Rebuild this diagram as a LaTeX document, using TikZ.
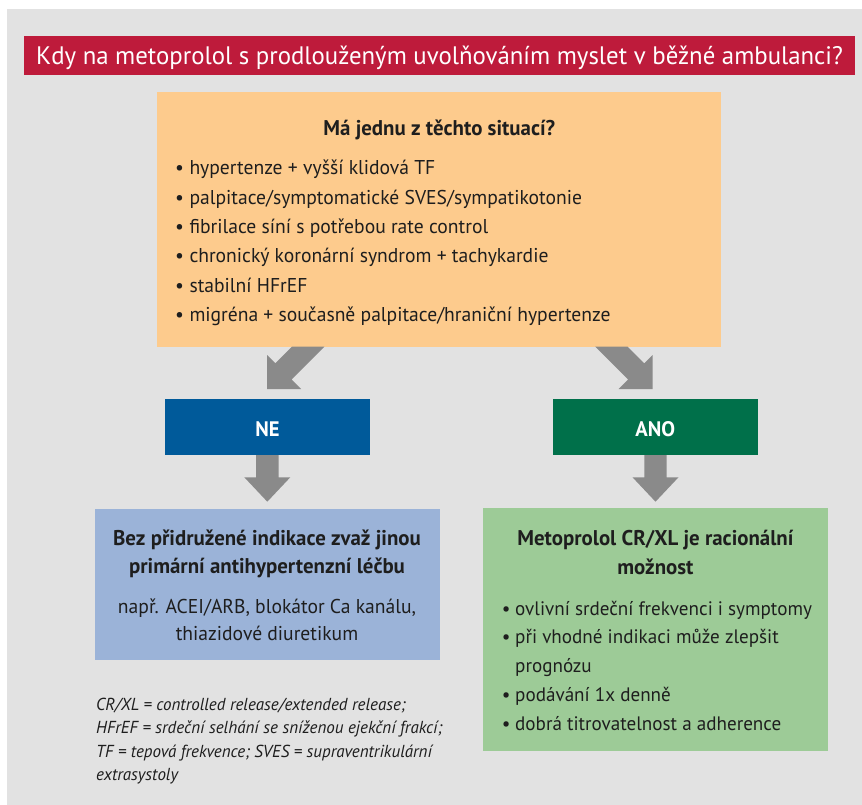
\documentclass[tikz,border=0pt]{standalone}
\usepackage{fontspec}
\setmainfont{PT Sans}[FakeStretch=0.98]
\usetikzlibrary{calc}
\definecolor{bggrey}{HTML}{E2E2E2}
\definecolor{titlered}{HTML}{BE1B3B}
\definecolor{qorange}{HTML}{FDCB8D}
\definecolor{neblue}{HTML}{005A9A}
\definecolor{anogreen}{HTML}{00704A}
\definecolor{bluebox}{HTML}{9BB3D8}
\definecolor{greenbox}{HTML}{9DCB97}
\definecolor{arrowgrey}{HTML}{8A8A8A}
\definecolor{txtc}{HTML}{1E1E1E}
\begin{document}
\begin{tikzpicture}[x=1pt,y=-1pt,
  box/.style={draw=none,inner sep=0pt,outer sep=0pt,anchor=north west},
  txt/.style={inner sep=0pt,text=txtc,font=\fontsize{20}{24}\selectfont},
  txtg/.style={inner sep=0pt,text=txtc,font=\fontsize{19.5}{24}\selectfont},
  txtb/.style={inner sep=0pt,text=txtc,font=\fontsize{21.3}{24}\selectfont\bfseries},
  lab/.style={inner sep=0pt,anchor=base,text=white,font=\fontsize{21}{24}\selectfont\bfseries},
  foot/.style={inner sep=0pt,text=txtc,anchor=base west,font=\fontsize{17.35}{20}\selectfont\itshape},
  fat/.style={fill=arrowgrey,draw=none}]
\useasboundingbox (0,0) rectangle (862,805);
\fill[white] (0,0) rectangle (862,805);
\fill[bggrey] (7,9) rectangle (862,805);

% boxes
\node[box,fill=titlered,minimum width=831,minimum height=39.5] (title) at (24,36) {};
\node[box,fill=qorange,minimum width=564,minimum height=254.7] (q) at (157,92) {};
\node[box,fill=neblue,minimum width=205,minimum height=56] (ne) at (165,399) {};
\node[box,fill=anogreen,minimum width=205,minimum height=56] (ano) at (552.7,399) {};
\node[box,fill=bluebox,minimum width=345,minimum height=151.5] (nebox) at (95,508.5) {};
\node[box,fill=greenbox,minimum width=345,minimum height=242.7] (anobox) at (483,508.3) {};

% arrows (tips placed relative to the boxes they point at)
\coordinate (tipL) at ($(ne.north)+(-0.5,-10)$);
\coordinate (tipR) at ($(ano.north)+(-2.7,-10)$);
\coordinate (tipNE) at ($(ne.south)+(-0.2,46.7)$);
\coordinate (tipANO) at ($(ano.south)+(0.3,46.7)$);
\fill[fat] (tipL) -- ($(tipL)+(0,-34)$) -- ($(tipL)+(8.35,-25.65)$) -- ($(tipL)+(25,-42.3)$)
  -- ($(tipL)+(57.3,-42.3)$) -- ($(tipL)+(24.5,-9.5)$) -- ($(tipL)+(34,0)$) -- cycle;
\fill[fat] (tipR) -- ($(tipR)+(0,-34)$) -- ($(tipR)+(-8.35,-25.65)$) -- ($(tipR)+(-25,-42.3)$)
  -- ($(tipR)+(-57.3,-42.3)$) -- ($(tipR)+(-24.5,-9.5)$) -- ($(tipR)+(-34,0)$) -- cycle;
\foreach \c in {tipNE,tipANO}{
  \fill[fat] (\c) -- ($(\c)+(-23,-24.4)$) -- ($(\c)+(-11.2,-24.4)$) -- ($(\c)+(-11.2,-46.7)$)
    -- ($(\c)+(11.2,-46.7)$) -- ($(\c)+(11.2,-24.4)$) -- ($(\c)+(23,-24.4)$) -- cycle;
}

% texts
\node[inner sep=0pt,anchor=base,text=white,font=\fontsize{25.3}{30}\selectfont] (titletxt) at (439.5,65) {Kdy na metoprolol s prodlouženým uvolňováním myslet v běžné ambulanci?};
\node[txtb,anchor=base] (qh) at (439.3,135.7) {Má jednu z těchto situací?};
\foreach \t [count=\i] in {{hypertenze + vyšší klidová TF},
  {palpitace/symptomatické SVES/sympatikotonie},
  {fibrilace síní s potřebou rate control},
  {chronický koronární syndrom + tachykardie},
  {stabilní HFrEF},
  {migréna + současně palpitace/hraniční hypertenze}}{
  \node[txt,anchor=base west] (qb\i) at (175,{175+29.3*(\i-1)}) {\textbullet};
  \node[txt,anchor=base west] (qt\i) at (189.3,{175+29.3*(\i-1)}) {\t};
}
\node[lab] (netxt) at (ne.center |- 0,436) {NE};
\node[lab] (anotxt) at (ano.center |- 0,436) {ANO};

\node[txtb,anchor=base] (nh1) at (267,545) {Bez přidružené indikace zvaž jinou};
\node[txtb,anchor=base] (nh2) at (267,573.3) {primární antihypertenzní léčbu};
\node[txt,anchor=base] (nt1) at (267,613) {např. ACEI/ARB, blokátor Ca kanálu,};
\node[txt,anchor=base] (nt2) at (267,640) {thiazidové diuretikum};

\node[txtb,anchor=base] (ah1) at (655.4,545) {Metoprolol CR/XL je racionální};
\node[txtb,anchor=base] (ah2) at (655.4,574) {možnost};
\node[txtg,anchor=base west] (ab1) at (501.7,615) {\textbullet};
\node[txtg,anchor=base west] (at1) at (515,615) {ovlivní srdeční frekvenci i symptomy};
\node[txtg,anchor=base west] (ab2) at (501.7,643) {\textbullet};
\node[txtg,anchor=base west] (at2) at (515,643) {při vhodné indikaci může zlepšit};
\node[txtg,anchor=base west] (at2b) at (515,672.7) {prognózu};
\node[txtg,anchor=base west] (ab3) at (501.7,701.7) {\textbullet};
\node[txtg,anchor=base west] (at3) at (515,701.7) {podávání 1x denně};
\node[txtg,anchor=base west] (ab4) at (501.7,730.7) {\textbullet};
\node[txtg,anchor=base west] (at4) at (515,730.7) {dobrá titrovatelnost a adherence};

\node[foot] (f1) at (96,710) {CR/XL = controlled release/extended release;};
\node[foot] (f2) at (96,733.5) {HFrEF = srdeční selhání se sníženou ejekční frakcí;};
\node[foot] (f3) at (96,757) {TF = tepová frekvence; SVES = supraventrikulární};
\node[foot] (f4) at (96,780) {extrasystoly};
\end{tikzpicture}
\end{document}
